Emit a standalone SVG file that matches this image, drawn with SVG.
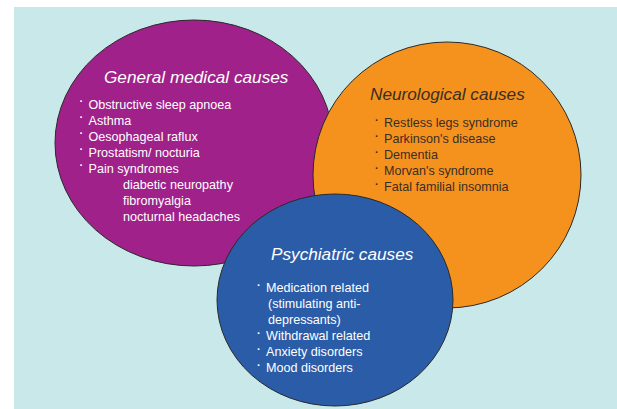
<svg xmlns="http://www.w3.org/2000/svg" width="617" height="409" viewBox="0 0 617 409">
<style>
.node ellipse{stroke:#2a2a2a;stroke-width:1}
.h{font-family:"Liberation Sans",Arial,sans-serif;font-style:italic;font-size:17.2px}
.t{font-family:"Liberation Sans",Arial,sans-serif;font-size:12.6px}
.b{font-family:"Liberation Sans",Arial,sans-serif;font-size:11px;font-weight:bold}
.w{fill:#ffffff}
.d{fill:#3a2e24}
</style>
<rect x="0" y="0" width="617" height="409" fill="#ffffff"/>
<rect x="14" y="7" width="603" height="402" fill="#c9e8ea"/>
<g id="connectors"></g>
<g id="general" class="node">
<ellipse cx="194" cy="143" rx="139" ry="123" fill="#a0218a"/>
<text class="h w" x="104" y="83">General medical causes</text>
<g class="b w">
<text x="79.5" y="105">·</text><text x="79.5" y="121">·</text><text x="79.5" y="137">·</text><text x="79.5" y="153">·</text><text x="79.5" y="169">·</text>
</g>
<g class="t w">
<text x="88.5" y="108.5">Obstructive sleep apnoea</text>
<text x="88.5" y="124.5">Asthma</text>
<text x="88.5" y="140.5">Oesophageal raflux</text>
<text x="88.5" y="156.5">Prostatism/ nocturia</text>
<text x="88.5" y="172.5">Pain syndromes</text>
<text x="123" y="188.5">diabetic neuropathy</text>
<text x="123" y="204.5">fibromyalgia</text>
<text x="123" y="220.5">nocturnal headaches</text>
</g>
</g>
<g id="neurological" class="node">
<ellipse cx="447" cy="175" rx="134" ry="133" fill="#f5921e"/>
<text class="h d" x="370" y="100">Neurological causes</text>
<g class="b d">
<text x="375" y="123.5">·</text><text x="375" y="139.5">·</text><text x="375" y="155.5">·</text><text x="375" y="171.5">·</text><text x="375" y="187.5">·</text>
</g>
<g class="t d">
<text x="384" y="127">Restless legs syndrome</text>
<text x="384" y="143">Parkinson's disease</text>
<text x="384" y="159">Dementia</text>
<text x="384" y="175">Morvan's syndrome</text>
<text x="384" y="191">Fatal familial insomnia</text>
</g>
</g>
<g id="psychiatric" class="node">
<ellipse cx="335" cy="300" rx="118" ry="106" fill="#2b5ca8"/>
<text class="h w" x="271" y="260">Psychiatric causes</text>
<g class="b w">
<text x="257" y="288.5">·</text><text x="257" y="336.5">·</text><text x="257" y="352.5">·</text><text x="257" y="368.5">·</text>
</g>
<g class="t w">
<text x="266" y="292">Medication related</text>
<text x="268" y="308">(stimulating anti-</text>
<text x="268" y="324">depressants)</text>
<text x="266" y="340">Withdrawal related</text>
<text x="266" y="356">Anxiety disorders</text>
<text x="266" y="372">Mood disorders</text>
</g>
</g>
</svg>
